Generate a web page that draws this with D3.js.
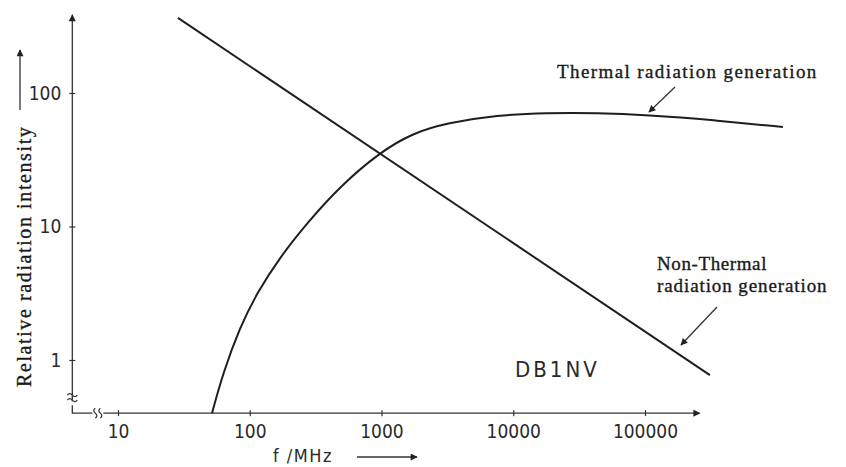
<!DOCTYPE html>
<meta charset="utf-8">
<style>
body { margin: 0; background: #fff; }
svg { display: block; }
.tick text { font-family: "Liberation Sans Narrow", "DejaVu Sans Condensed", "Liberation Sans", Arial, sans-serif; font-size: 19px; fill: #2a2a2a; }
.tick line { stroke: #333; stroke-width: 1.2; }
.serif { font-family: "Liberation Serif", "DejaVu Serif", serif; fill: #1a1a1a; stroke: #1a1a1a; stroke-width: 0.35; }
.curve { fill: none; stroke: #1e1e1e; stroke-width: 2; }
.axisline { fill: none; stroke: #333; stroke-width: 1.3; }
</style>
<body>
<script src="https://cdn.jsdelivr.net/npm/d3@7"></script>
<script>

// tick values on both log axes
var xTicks = [10, 100, 1000, 10000, 100000];
var yTicks = [1, 10, 100];

// thermal radiation curve
var thermalFreq = [51.7, 62.7, 84.4, 113.5, 170, 272, 484, 975, 1734, 3141, 7530, 18030, 43230, 103600, 328000, 1114000];
var thermalVal  = [0.40, 0.80, 1.77, 3.18, 5.91, 10.6, 20.0, 36.1, 50.2, 59.6, 68.4, 70.8, 70.8, 68.4, 62.8, 55.6];

// non-thermal radiation, straight line on log-log
var nonThermalFreq = [28.5, 311000];
var nonThermalVal  = [365, 0.77];

// where the axis lines run (data units)
var xAxisExtent = [4.5, 260000];
var yAxisExtent = [0.4, 385];

var width = 846, height = 467;

var x = d3.scaleLog().domain([10, 100000]).range([118, 645]);
var y = d3.scaleLog().domain([1, 100]).range([360, 93]);

var svg = d3.select("body").append("svg")
    .attr("width", width)
    .attr("height", height);

// arrow head
svg.append("defs").append("marker")
    .attr("id", "arrow")
    .attr("viewBox", "0 0 10 10")
    .attr("refX", 9).attr("refY", 5)
    .attr("markerWidth", 9).attr("markerHeight", 7)
    .attr("markerUnits", "userSpaceOnUse")
    .attr("orient", "auto")
  .append("path")
    .attr("d", "M0,0 L10,5 L0,10 Z")
    .attr("fill", "#222");

var x0 = x(xAxisExtent[0]), y0 = y(yAxisExtent[0]);

// axis lines
svg.append("path").attr("class", "axisline")
    .attr("d", "M" + x0 + "," + (y0 - 12) + " L" + x0 + "," + y(yAxisExtent[1]))
    .attr("marker-end", "url(#arrow)");
svg.append("path").attr("class", "axisline")
    .attr("d", "M" + x0 + "," + (y0 - 8) + " L" + x0 + "," + y0 + " L" + (x0 + 20) + "," + y0);
svg.append("path").attr("class", "axisline")
    .attr("d", "M" + (x0 + 31) + "," + y0 + " L" + x(xAxisExtent[1]) + "," + y0)
    .attr("marker-end", "url(#arrow)");

// break symbols
svg.append("path").attr("class", "axisline")
    .attr("transform", "translate(" + x0 + "," + (y0 - 16) + ")")
    .attr("d", "M-5,-2 q2.5,-3 5,0 t5,0 M-5,3 q2.5,-3 5,0 t5,0");
svg.append("path").attr("class", "axisline")
    .attr("transform", "translate(" + (x0 + 25) + "," + y0 + ")")
    .attr("d", "M-2,-5 q-3,2.5 0,5 t0,5 M3,-5 q-3,2.5 0,5 t0,5");

// x axis ticks
var gx = svg.append("g")
    .attr("transform", "translate(0," + y0 + ")")
    .call(d3.axisBottom(x).tickValues(xTicks).tickFormat(d3.format("d")).tickSize(3).tickPadding(8));
gx.select(".domain").remove();
gx.selectAll(".tick line").attr("y1", -3).attr("y2", 3);

// y axis ticks
var gy = svg.append("g")
    .attr("transform", "translate(" + x0 + ",0)")
    .call(d3.axisLeft(y).tickValues(yTicks).tickFormat(d3.format("d")).tickSize(3).tickPadding(8));
gy.select(".domain").remove();
gy.selectAll(".tick line").attr("x1", -3).attr("x2", 3);

// curves
var thermal = thermalFreq.map(function(f, i) { return [f, thermalVal[i]]; });
var nonThermal = nonThermalFreq.map(function(f, i) { return [f, nonThermalVal[i]]; });

var line = d3.line()
    .x(function(d) { return x(d[0]); })
    .y(function(d) { return y(d[1]); });

svg.append("path").attr("class", "curve")
    .attr("d", line.curve(d3.curveBasis)(thermal));
svg.append("path").attr("class", "curve")
    .attr("d", line.curve(d3.curveLinear)(nonThermal));

// y axis title with arrow
svg.append("text").attr("class", "serif")
    .attr("transform", "translate(31,387) rotate(-90)")
    .style("font-size", "20px")
    .style("letter-spacing", "1.6px")
    .text("Relative radiation intensity");
svg.append("path").attr("class", "axisline")
    .attr("d", "M20,110 L20,50")
    .attr("marker-end", "url(#arrow)");

// x axis title with arrow
svg.append("text")
    .attr("x", 273).attr("y", 462)
    .style("font-family", "'Liberation Sans Narrow', 'DejaVu Sans Condensed', 'Liberation Sans', sans-serif")
    .style("font-size", "18px")
    .style("letter-spacing", "1.5px")
    .style("fill", "#2a2a2a")
    .text("f /MHz");
svg.append("path").attr("class", "axisline")
    .attr("d", "M357,457 L417,457")
    .attr("marker-end", "url(#arrow)");

// annotations
svg.append("text").attr("class", "serif")
    .attr("x", 557).attr("y", 78)
    .style("font-size", "19px")
    .style("letter-spacing", "1.4px")
    .text("Thermal radiation generation");
svg.append("path").attr("class", "axisline")
    .attr("d", "M675,87 L649,112")
    .attr("marker-end", "url(#arrow)");

svg.append("text").attr("class", "serif")
    .attr("x", 657).attr("y", 270)
    .style("font-size", "19px")
    .style("letter-spacing", "0.6px")
    .text("Non-Thermal");
svg.append("text").attr("class", "serif")
    .attr("x", 657).attr("y", 292)
    .style("font-size", "19px")
    .style("letter-spacing", "0.9px")
    .text("radiation generation");
svg.append("path").attr("class", "axisline")
    .attr("d", "M717,307 L681,345")
    .attr("marker-end", "url(#arrow)");

svg.append("text")
    .attr("x", 515).attr("y", 377)
    .style("font-family", "'Liberation Sans Narrow', 'DejaVu Sans Condensed', 'Liberation Sans', sans-serif")
    .style("font-size", "22px")
    .style("letter-spacing", "3px")
    .style("fill", "#2a2a2a")
    .text("DB1NV");

</script>
</body>
